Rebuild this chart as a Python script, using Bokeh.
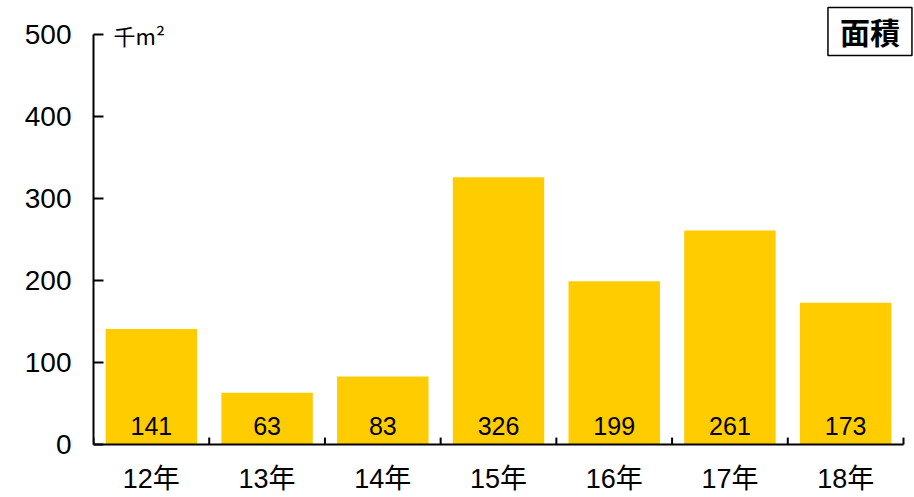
from bokeh.plotting import figure
from bokeh.models import (Range1d, LinearAxis, FixedTicker, Label,
                          ColumnDataSource)
from bokeh.core.properties import value
from bokeh.embed import file_html
from bokeh.resources import INLINE

# ---- data ----
years = ["12年", "13年", "14年", "15年", "16年", "17年", "18年"]
areas = [141, 63, 83, 326, 199, 261, 173]
y_ticks = [0, 100, 200, 300, 400, 500]
unit_label = "千m²"
legend_label = "面積"

FONT = "Liberation Sans, Arial, Noto Sans CJK JP"
CJK = "Noto Sans CJK JP"

n = len(years)
y_max = y_ticks[-1]
centers = [i + 0.5 for i in range(n)]
edges = list(range(n + 1))

bars = ColumnDataSource(dict(x=centers, top=areas,
                             label=[str(v) for v in areas],
                             ly=[23] * n, cy=[-41.5] * n, cat=years))
tick_src = ColumnDataSource(dict(x=edges, y0=[0] * (n + 1),
                                 y1=[8.5] * (n + 1)))

p = figure(x_range=Range1d(0, 7.095), y_range=Range1d(-64.6, 541.5),
           width=914, height=497, output_backend="svg", toolbar_location=None,
           x_axis_location=None, y_axis_location=None,
           min_border_left=93, min_border_right=0, min_border_top=0,
           min_border_bottom=0)
p.outline_line_color = None
p.xgrid.visible = False
p.ygrid.visible = False
p.background_fill_color = "white"

p.vbar(x="x", top="top", width=0.79, source=bars, fill_color="#FFCC00",
       line_color=None)
p.text(x="x", y="ly", text="label", source=bars, text_align="center",
       text_baseline="middle", text_font_size="25px", text_color="black",
       text_font=value(FONT))

# x axis line, boundary ticks and category labels
p.segment(x0=0, y0=0, x1=n, y1=0, line_color="black", line_width=2)
p.segment(x0="x", y0="y0", x1="x", y1="y1", source=tick_src,
          line_color="black", line_width=2)
p.text(x="x", y="cy", text="cat", source=bars, text_align="center",
       text_baseline="middle", text_font_size="27px", text_color="black",
       text_font=value(FONT))

# y axis
yax = LinearAxis(ticker=FixedTicker(ticks=y_ticks), bounds=(0, y_max),
                 major_tick_in=10, major_tick_out=0,
                 minor_tick_line_color=None,
                 axis_line_width=2, major_tick_line_width=2,
                 major_label_text_font=FONT, major_label_text_font_size="28px",
                 major_label_text_color="black", major_label_standoff=22)
p.add_layout(yax, "left")

# unit label
p.add_layout(Label(x=0.173, y=y_max, text=unit_label, text_font=CJK,
                   text_font_size="22px", text_baseline="middle",
                   text_align="left", text_color="black"))

# legend box
p.add_layout(Label(x=6.71, y=503.7, text=legend_label, text_font=CJK,
                   text_font_size="30px", text_font_style="bold",
                   text_line_height=1.0,
                   text_baseline="middle", text_align="center",
                   text_color="black", border_line_color="black",
                   border_line_width=1.5, background_fill_color="white",
                   padding=(12, 2)))

open("out.html", "w").write(file_html(p, INLINE))
